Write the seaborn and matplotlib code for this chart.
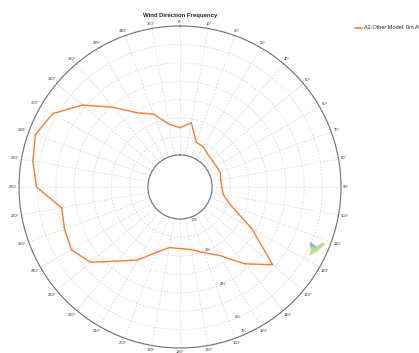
import numpy as np
import pandas as pd
import matplotlib
matplotlib.use("Agg")
import matplotlib.pyplot as plt
from matplotlib.lines import Line2D
import seaborn as sns

# Wind direction sectors (degrees, clockwise from north) and frequency (%)
directions = list(range(0, 360, 10))
frequency = [1.48, 1.80, 0.85, 0.78, 0.60, 0.53, 0.53, 0.59, 0.50, 0.53,
             0.65, 1.20, 2.75, 4.83, 3.70, 2.55, 2.05, 1.71, 1.60, 1.60,
             2.04, 2.83, 3.51, 4.61, 5.07, 4.93, 4.78, 6.05, 6.37, 6.61,
             6.23, 5.18, 3.91, 2.91, 2.47, 1.73]
radial_ticks = [0, 1, 2, 3, 4, 5, 6, 7]
radial_label_values = [0, 2, 4, 6, 7]
angle_labels = [f"{d}\u00b0" for d in directions]
series_name = "A2-Other Model  0m Avg"
title = "Wind Direction Frequency"

# small decorative glyph near the 110-118 degree rim
glyph_green_theta = [112.5, 114.0, 111.0, 111.8, 115.3, 118.0, 115.8, 113.2]
glyph_green_r = [5.92, 6.25, 6.62, 6.72, 6.48, 6.20, 6.12, 6.02]
glyph_blue_theta = [112.9, 114.8, 114.0, 113.4]
glyph_blue_r = [5.90, 6.05, 6.35, 6.30]

line_color = "#f47d2f"
text_color = "#333333"

sns.set_style("white")
plt.rcParams["font.family"] = ["Liberation Sans", "DejaVu Sans"]

fig = plt.figure(figsize=(4.19, 3.53), dpi=100)
W, H = 419, 353
cx, cy, R = 180, 187, 161
ax = fig.add_axes([(cx - R) / W, (H - cy - R) / H, 2 * R / W, 2 * R / H],
                  projection="polar")
ax.set_theta_zero_location("N")
ax.set_theta_direction(-1)
r_min, r_max, r_origin = 0, 7, -1.74
ax.set_ylim(r_min, r_max)
ax.set_rorigin(r_origin)
px_per_unit = R / (r_max - r_origin)

# closed loop of the frequency polygon
df = pd.DataFrame({
    "theta": np.deg2rad(directions + directions[:1]),
    "freq": frequency + frequency[:1],
})
sns.lineplot(data=df, x="theta", y="freq", sort=False, estimator=None,
             color=line_color, linewidth=1.0, ax=ax, legend=False)

ax.fill(np.deg2rad(glyph_green_theta), glyph_green_r, color="#bcd98a",
        alpha=0.9, lw=0)
ax.fill(np.deg2rad(glyph_blue_theta), glyph_blue_r, color="#93acd6",
        alpha=0.9, lw=0)

# grid: spokes every 10 degrees, rings every 1 %
ax.set_xticks(np.deg2rad(directions))
ax.set_xticklabels([])
ax.set_yticks(radial_ticks)
ax.set_yticklabels([])
ax.tick_params(axis="both", length=0)
ax.set_xlabel("")
ax.set_ylabel("")
ax.grid(True, color="#d9d9d9", linestyle=(0, (2.0, 2.0)), linewidth=0.6)
for name in ("polar", "inner"):
    if name in ax.spines:
        ax.spines[name].set_color("#707070")
        ax.spines[name].set_linewidth(0.8)

# direction labels hugging the outer rim
for d, lab in zip(directions, angle_labels):
    t = np.deg2rad(d)
    half_w = 1.15 * len(lab)
    half_h = 2.0
    gap = 1.8 + half_w * abs(np.sin(t)) + half_h * abs(np.cos(t))
    ax.text(t, r_max + gap / px_per_unit, lab, fontsize=3.0,
            color=text_color, ha="center", va="center", clip_on=False)

# percentage labels along the 156 degree spoke
label_angle = np.deg2rad(156)
nudge = {0: 0.22, 7: -0.2}
for v in radial_label_values:
    ax.text(label_angle, v + nudge.get(v, 0.0), f"{v}%", fontsize=3.2,
            color=text_color, ha="center", va="center", clip_on=False)

fig.text(cx / W, 1 - 15 / H, title, ha="center", va="center",
         fontsize=4.3, fontweight="bold", color="#222222")

handle = Line2D([], [], color=line_color, linewidth=1.2)
fig.legend([handle], [series_name], loc="center left",
           bbox_to_anchor=(355 / W, 1 - 28 / H), frameon=False,
           fontsize=4.0, handlelength=1.2, handletextpad=0.5,
           borderaxespad=0, borderpad=0)

fig.savefig("out.png", dpi=100, facecolor="white")
